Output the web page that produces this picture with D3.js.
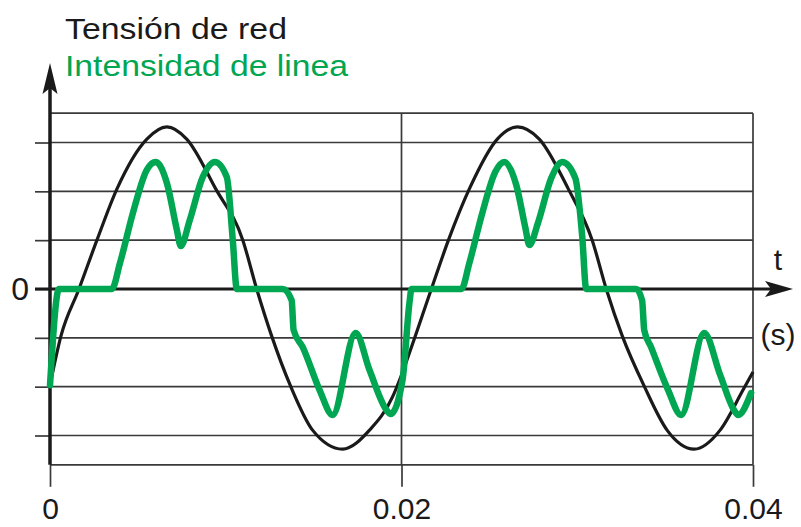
<!DOCTYPE html>
<html>
<head>
<meta charset="utf-8">
<script src="https://cdn.jsdelivr.net/npm/d3@7"></script>
<style>
	body { margin: 0; background: #fff; }
	text { font-family: "Liberation Sans", Arial, sans-serif; }
</style>
</head>
<body>
<div id="chart"></div>
<script>
// time (s) and value (grid units)
const tensionTime   = [0, 0.000625, 0.00165, 0.00267, 0.00381, 0.00551, 0.00665, 0.00778, 0.00943, 0.01097, 0.01176, 0.01261, 0.01369, 0.01494, 0.01665, 0.01818, 0.01949, 0.02, 0.02045, 0.0217, 0.02267, 0.02386, 0.02545, 0.02659, 0.02784, 0.02949, 0.03085, 0.03165, 0.03256, 0.03381, 0.03511, 0.03665, 0.03813, 0.03943, 0.04];
const tensionValue  = [-1.97, -0.96, 0, 1.0, 2.05, 3.07, 3.32, 3.07, 2.05, 1.0, 0, -0.96, -1.99, -2.89, -3.28, -2.89, -2.21, -1.76, -1.31, 0, 1.0, 2.05, 3.07, 3.32, 3.07, 2.05, 1.0, 0, -0.96, -1.99, -2.89, -3.28, -2.89, -2.07, -1.70];

const currentTime   = [0, 0.00051, 0.00352, 0.00398, 0.00472, 0.00551, 0.00602, 0.00665, 0.00722, 0.00744, 0.00795, 0.00869, 0.00938, 0.01006, 0.0104, 0.01063, 0.01324, 0.01375, 0.01386, 0.01438, 0.01534, 0.01608, 0.01739, 0.01818, 0.01915, 0.01938, 0.02006, 0.02045, 0.02057,
	0.02341, 0.02386, 0.0246, 0.02534, 0.02585, 0.02653, 0.02705, 0.02727, 0.02778, 0.02852, 0.02915, 0.02989, 0.03028, 0.03051, 0.03335, 0.03369, 0.03381, 0.0342, 0.03517, 0.03591, 0.03722, 0.03813, 0.03892, 0.03915, 0.03989];
const currentValue  = [-1.97, 0, 0, 0.53, 1.56, 2.44, 2.60, 2.17, 1.21, 0.88, 1.41, 2.29, 2.60, 2.29, 1.0, 0, 0, -0.23, -0.84, -1.19, -2.07, -2.58, -0.90, -1.66, -2.48, -2.56, -1.86, -0.29, 0,
	0, 0.53, 1.56, 2.40, 2.60, 2.13, 1.25, 0.90, 1.37, 2.27, 2.60, 2.27, 1.09, 0, 0, -0.23, -0.84, -1.19, -2.07, -2.58, -0.90, -1.76, -2.48, -2.58, -2.13];

const xTicks        = [0, 0.02, 0.04];
const xTickLabels   = ["0", "0.02", "0.04"];
const yGrid         = [3, 2, 1, 0, -1, -2, -3];
const yTickLabels   = ["", "", "", "0", "", "", ""];
const legendLabels  = ["Tensión de red", "Intensidad de linea"];
const axisLabels    = ["t", "(s)"];

let canvasWidth  = 801;
let canvasHeight = 527;
let green = "#00a651";
let ink   = "#1a1a1a";
let gridC = "#3a3a3a";

let x = d3.scaleLinear().domain([0, 0.04]).range([50, 753]);
let y = d3.scaleLinear().domain([-3, 3]).range([435.5, 142.5]);
let yTop = y(3.6), yBot = y(-3.6);

let svg = d3.select("#chart").append("svg")
	.attr("width", canvasWidth)
	.attr("height", canvasHeight);

// horizontal grid inside the box
svg.append("g")
	.selectAll("line")
	.data(yGrid.filter((o) => (o !== 0)))
	.enter().append("line")
		.attr("x1", x(0)).attr("x2", x(0.04))
		.attr("y1", (o) => (y(o))).attr("y2", (o) => (y(o)))
		.attr("stroke", gridC).attr("stroke-width", 1.7);

// box top / bottom
[yTop, yBot].forEach((yy) => {
	svg.append("line")
		.attr("x1", x(0)).attr("x2", x(0.04))
		.attr("y1", yy).attr("y2", yy)
		.attr("stroke", gridC).attr("stroke-width", 1.7);
});

// vertical lines at 0.02 and 0.04
svg.append("g")
	.selectAll("line")
	.data(xTicks.slice(1))
	.enter().append("line")
		.attr("x1", (o) => (x(o))).attr("x2", (o) => (x(o)))
		.attr("y1", yTop).attr("y2", yBot)
		.attr("stroke", gridC).attr("stroke-width", 1.7);

// bottom axis: ticks hanging below the box, labels
let xAxis = svg.append("g")
	.attr("transform", "translate(0," + yBot + ")")
	.call(d3.axisBottom(x).tickValues(xTicks).tickSize(22).tickPadding(11)
		.tickFormat((d, i) => (xTickLabels[i])));
xAxis.select(".domain").remove();
xAxis.selectAll(".tick line").attr("stroke", gridC).attr("stroke-width", 1.7);
xAxis.selectAll(".tick text").attr("font-size", 30).attr("fill", ink)
	.attr("font-family", "'Liberation Sans', Arial, sans-serif");

// left axis: short ticks left of the y axis and the "0" label
let yAxis = svg.append("g")
	.attr("transform", "translate(" + x(0) + ",0)")
	.call(d3.axisLeft(y).tickValues(yGrid).tickSize(15).tickPadding(6)
		.tickFormat((d, i) => (yTickLabels[i])));
yAxis.select(".domain").remove();
yAxis.selectAll(".tick line").attr("stroke", gridC).attr("stroke-width", 1.7);
yAxis.selectAll(".tick text").attr("font-size", 32).attr("fill", ink)
	.attr("font-family", "'Liberation Sans', Arial, sans-serif");

// zero line with arrow (t axis)
svg.append("line")
	.attr("x1", x(0) - 15).attr("x2", 772)
	.attr("y1", y(0)).attr("y2", y(0))
	.attr("stroke", ink).attr("stroke-width", 3);
svg.append("path")
	.attr("d", "M793," + y(0) + " L765," + (y(0) - 8) + " L771," + y(0) + " L765," + (y(0) + 8) + " Z")
	.attr("fill", ink);

// y axis with arrow
svg.append("line")
	.attr("x1", x(0)).attr("x2", x(0))
	.attr("y1", yBot).attr("y2", 86)
	.attr("stroke", ink).attr("stroke-width", 3.5);
svg.append("path")
	.attr("d", "M" + x(0) + ",63 L" + (x(0) + 7.5) + ",94 L" + x(0) + ",88 L" + (x(0) - 7.5) + ",94 Z")
	.attr("fill", ink);

// curves
let line = d3.line()
	.x((o) => (x(o[0])))
	.y((o) => (y(o[1])))
	.curve(d3.curveMonotoneX);

svg.append("path")
	.datum(tensionTime.map((t, i) => ([t, tensionValue[i]])))
	.attr("d", line)
	.attr("fill", "none")
	.attr("stroke", ink)
	.attr("stroke-width", 3.2);

svg.append("path")
	.datum(currentTime.map((t, i) => ([t, currentValue[i]])))
	.attr("d", line)
	.attr("fill", "none")
	.attr("stroke", green)
	.attr("stroke-width", 6.5)
	.attr("stroke-linejoin", "round")
	.attr("stroke-linecap", "round");

// legend
svg.append("text")
	.attr("x", 65).attr("y", 39)
	.attr("font-size", 30).attr("fill", ink)
	.attr("textLength", 222).attr("lengthAdjust", "spacingAndGlyphs")
	.text(legendLabels[0]);
svg.append("text")
	.attr("x", 65).attr("y", 76)
	.attr("font-size", 30).attr("fill", green)
	.attr("textLength", 283).attr("lengthAdjust", "spacingAndGlyphs")
	.text(legendLabels[1]);

// axis unit labels
svg.append("text")
	.attr("x", 778).attr("y", 270)
	.attr("text-anchor", "middle")
	.attr("font-size", 30).attr("fill", ink)
	.text(axisLabels[0]);
svg.append("text")
	.attr("x", 778).attr("y", 345)
	.attr("text-anchor", "middle")
	.attr("font-size", 30).attr("fill", ink)
	.text(axisLabels[1]);
</script>
</body>
</html>
